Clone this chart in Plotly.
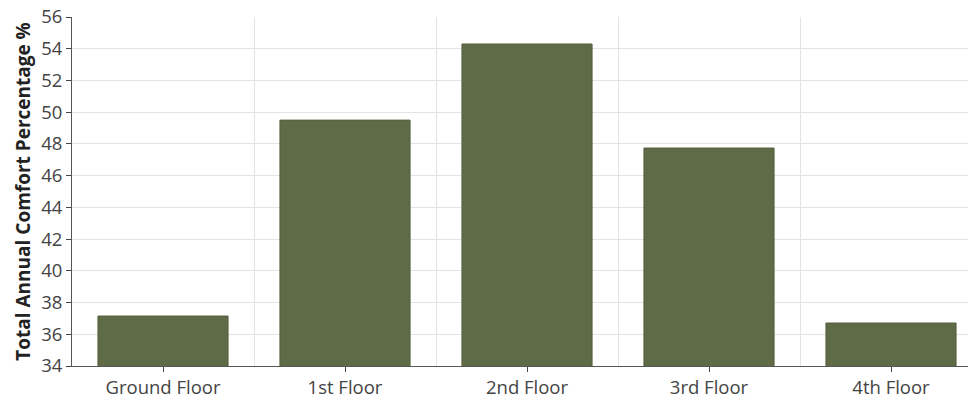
import plotly.graph_objects as go

floors = ["Ground Floor", "1st Floor", "2nd Floor", "3rd Floor", "4th Floor"]
comfort_pct = [37.15, 49.5, 54.3, 47.74, 36.71]
y_ticks = list(range(34, 57, 2))

positions = list(range(len(floors)))

fig = go.Figure(
    go.Bar(
        x=positions,
        y=comfort_pct,
        width=0.715,
        marker=dict(color="#5f6a47", line=dict(color="#56613f", width=1)),
        hoverinfo="x+y",
    )
)

fig.update_layout(
    width=976,
    height=400,
    margin=dict(l=64, r=2, t=9, b=42, autoexpand=False),
    paper_bgcolor="white",
    plot_bgcolor="white",
    font=dict(family="Open Sans", size=18, color="#444"),
    showlegend=False,
)

fig.update_xaxes(
    range=[-0.5, 4.5],
    tickvals=positions,
    ticktext=floors,
    showgrid=False,
    ticks="outside",
    ticklen=5,
    tickcolor="#444",
    showline=True,
    linecolor="#555",
    linewidth=1,
    tickfont=dict(size=18.5, color="#444"),
    ticklabeloverflow="allow",
    automargin=False,
    minor=dict(tickvals=[p + 0.5 for p in positions[:-1]], showgrid=True,
               gridcolor="#e3e3e3", gridwidth=1, ticks=""),
    zeroline=False,
)

fig.update_yaxes(
    range=[34, 56],
    tickvals=y_ticks,
    showgrid=True,
    gridcolor="#e3e3e3",
    gridwidth=1,
    ticks="outside",
    ticklen=5,
    tickcolor="#444",
    showline=True,
    linecolor="#555",
    linewidth=1,
    tickfont=dict(size=18.5, color="#444"),
    ticklabeloverflow="allow",
    automargin=False,
    title=dict(text="<b>Total Annual Comfort Percentage %</b>",
               font=dict(size=19, color="#222"), standoff=5),
    zeroline=False,
)

fig.write_html("out.html")
